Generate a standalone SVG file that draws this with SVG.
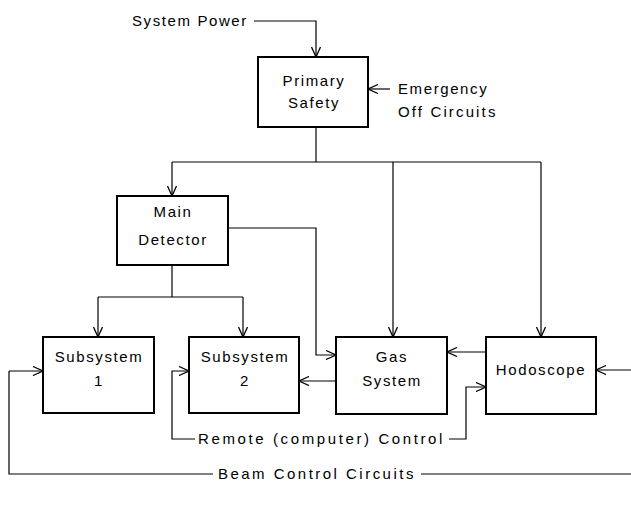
<svg xmlns="http://www.w3.org/2000/svg" width="631" height="505" viewBox="0 0 631 505">
<defs>
<marker id="ah" viewBox="0 0 12 10" refX="11" refY="5" markerWidth="12" markerHeight="10" markerUnits="userSpaceOnUse" orient="auto">
<path d="M1,0.5 L11,5 L1,9.5" fill="none" stroke="#000" stroke-width="1.3"/>
</marker>
</defs>
<style>
.box{fill:#fff;stroke:#000;stroke-width:2}
.ln{fill:none;stroke:#000;stroke-width:1.2}
.ar{fill:none;stroke:#000;stroke-width:1.2;marker-end:url(#ah)}
text{font-family:"Liberation Sans","DejaVu Sans",sans-serif;font-size:15px;letter-spacing:1.6px;fill:#000}
.c{text-anchor:middle}
</style>
<rect width="631" height="505" fill="#fff"/>
<g id="connectors">
<polyline class="ar" points="254,21 316,21 316,57"/>
<line class="ar" x1="390" y1="89" x2="368" y2="89"/>
<polyline class="ln" points="316,127 316,162"/>
<polyline class="ln" points="172,162 541,162"/>
<line class="ar" x1="172" y1="162" x2="172" y2="196"/>
<line class="ar" x1="393" y1="162" x2="393" y2="337"/>
<line class="ar" x1="541" y1="162" x2="541" y2="337"/>
<polyline class="ar" points="228,228 316,228 316,355 336,355"/>
<polyline class="ln" points="172,265 172,297"/>
<polyline class="ln" points="98,297 243,297"/>
<line class="ar" x1="98" y1="297" x2="98" y2="337"/>
<line class="ar" x1="243" y1="297" x2="243" y2="337"/>
<line class="ar" x1="336" y1="381" x2="299" y2="381"/>
<line class="ar" x1="486" y1="352" x2="447" y2="352"/>
<line class="ar" x1="631" y1="370" x2="596" y2="370"/>
<polyline class="ar" points="195,439 172,439 172,371 189,371"/>
<polyline class="ar" points="449,439 466,439 466,387 486,387"/>
<polyline class="ln" points="213,474 9,474 9,371"/>
<line class="ar" x1="9" y1="371" x2="43" y2="371"/>
<line class="ln" x1="421" y1="474" x2="631" y2="474"/>
</g>
<g id="system-power"><text x="132" y="26">System Power</text></g>
<g id="emergency"><text x="398" y="94">Emergency</text><text x="398" y="117" textLength="99" lengthAdjust="spacing">Off Circuits</text></g>
<g id="primary-safety"><rect class="box" x="258" y="57" width="110" height="70"/><text class="c" x="314" y="86">Primary</text><text class="c" x="314" y="108">Safety</text></g>
<g id="main-detector"><rect class="box" x="117" y="196" width="111" height="69"/><text class="c" x="173" y="217">Main</text><text class="c" x="173" y="245">Detector</text></g>
<g id="subsystem1"><rect class="box" x="43" y="337" width="111" height="76"/><text class="c" x="99" y="362">Subsystem</text><text class="c" x="99" y="386">1</text></g>
<g id="subsystem2"><rect class="box" x="189" y="337" width="110" height="76"/><text class="c" x="245" y="362">Subsystem</text><text class="c" x="245" y="386">2</text></g>
<g id="gas-system"><rect class="box" x="336" y="337" width="111" height="77"/><text class="c" x="392" y="362">Gas</text><text class="c" x="392" y="386">System</text></g>
<g id="hodoscope"><rect class="box" x="486" y="337" width="110" height="77"/><text class="c" x="541" y="375">Hodoscope</text></g>
<g id="remote"><text x="198" y="444" textLength="246" lengthAdjust="spacing">Remote (computer) Control</text></g>
<g id="beam"><text x="218" y="479" textLength="197" lengthAdjust="spacing">Beam Control Circuits</text></g>
</svg>
